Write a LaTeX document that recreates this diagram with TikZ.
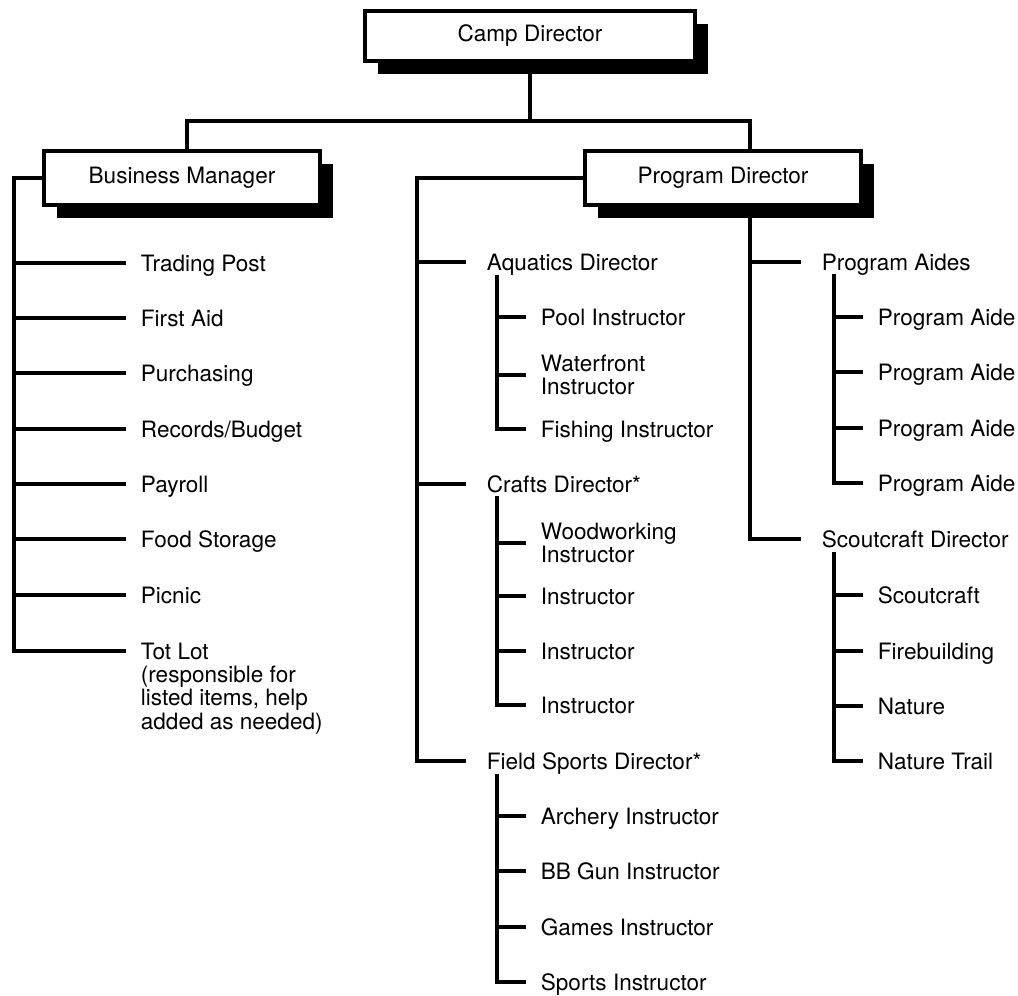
\documentclass[tikz,border=0pt]{standalone}
\usepackage{fontspec}
\setmainfont{TeX Gyre Heros}
\usetikzlibrary{shadows}
\begin{document}
\begin{tikzpicture}[x=0.75pt,y=-0.75pt,
  every node/.style={font=\fontsize{16.9pt}{17.5pt}\selectfont},
  conn/.style={line width=2.3pt},
  box/.style={draw, line width=2.8pt, fill=white, inner sep=0pt,
    drop shadow={shadow xshift=10pt,shadow yshift=-10pt,opacity=1,fill=black}},
  leaf/.style={inner xsep=11pt, inner ysep=1pt, anchor=west, text height=12.1pt, text depth=0pt},
  leafm/.style={inner xsep=11pt, inner ysep=1pt, anchor=west, align=left},
  dirn/.style={inner xsep=15.5pt, inner ysep=1pt, anchor=west, text height=12.1pt, text depth=0pt}]
\useasboundingbox (0,0) rectangle (1018,996);

% boxes
\node[box, minimum width=247.5pt, minimum height=37.5pt] (camp) at (530,36) {Camp Director};
\node[box, minimum width=207pt, minimum height=40.5pt] (bm) at (182,178) {Business Manager};
\node[box, minimum width=207pt, minimum height=40.5pt] (pd) at (723,178) {Program Director};

% junction coordinates
\coordinate (jl) at (187,121);
\coordinate (jr) at (750,121);
\coordinate (bmbot) at (14,651);
\coordinate (pdl) at (417,0);
\coordinate (pdr) at (750,0);
\coordinate (aqtop) at (497,275);
\coordinate (crtop) at (497,496);
\coordinate (fstop) at (497,774);
\coordinate (atop) at (834,274);
\coordinate (sctop) at (834,552);

% Business Manager items
\node[leaf] (tp) at (126,263) {Trading Post};
\node[leaf] (fa) at (126,318) {First Aid};
\node[leaf] (pu) at (126,373) {Purchasing};
\node[leaf] (rb) at (126,429) {Records/Budget};
\node[leaf] (pr) at (126,484) {Payroll};
\node[leaf] (fo) at (126,539) {Food Storage};
\node[leaf] (pc) at (126,595) {Picnic};
\node[leaf] (tot) at (126,651) {\begin{tabular}[t]{@{}l@{}}Tot Lot\\(responsible for\\listed items, help\\added as needed)\end{tabular}};

% Program Director left column
\node[dirn] (aq) at (466,262) {Aquatics Director};
\node[dirn] (cr) at (466,484) {Crafts Director*};
\node[dirn] (fsd) at (466,761) {Field Sports Director*};

\node[leaf] (pool) at (526,317) {Pool Instructor};
\node[leafm] (wf) at (526,375) {Waterfront\\Instructor};
\node[leaf] (fish) at (526,429) {Fishing Instructor};

\node[leafm] (wood) at (526,543) {Woodworking\\Instructor};
\node[leaf] (in1) at (526,596) {Instructor};
\node[leaf] (in2) at (526,651) {Instructor};
\node[leaf] (in3) at (526,705) {Instructor};

\node[leaf] (ar) at (526,816) {Archery Instructor};
\node[leaf] (bb) at (526,871) {BB Gun Instructor};
\node[leaf] (gm) at (526,927) {Games Instructor};
\node[leaf] (sp) at (526,982) {Sports Instructor};

% Program Director right column
\node[dirn] (pa) at (801,262) {Program Aides};
\node[dirn] (scd) at (801,539) {Scoutcraft Director};

\node[leaf] (a1) at (863,317) {Program Aide};
\node[leaf] (a2) at (863,372) {Program Aide};
\node[leaf] (a3) at (863,428) {Program Aide};
\node[leaf] (a4) at (863,483) {Program Aide};

\node[leaf] (sc) at (863,595) {Scoutcraft};
\node[leaf] (fb) at (863,651) {Firebuilding};
\node[leaf] (na) at (863,706) {Nature};
\node[leaf] (nt) at (863,761) {Nature Trail};

% top connectors
\draw[conn] (camp.south) -- (camp.south |- jl);
\draw[conn] (jl |- bm.north) -- (jl) -- (jr) -- (jr |- pd.north);

% Business Manager spine
\draw[conn] (bm.west) -| (bmbot) -- (tot.west);
\foreach \n in {tp,fa,pu,rb,pr,fo,pc}
  \draw[conn] (\n.west -| bmbot) -- (\n.west);

% Program Director left spine
\draw[conn] (pd.west) -| (pdl |- fsd.west) -- (fsd.west);
\foreach \n in {aq,cr}
  \draw[conn] (\n.west -| pdl) -- (\n.west);

\draw[conn] (aqtop) |- (fish.west);
\draw[conn] (pool.west -| aqtop) -- (pool.west);
\draw[conn] (wf.west -| aqtop) -- (wf.west);

\draw[conn] (crtop) |- (in3.west);
\draw[conn] (wood.west -| crtop) -- (wood.west);
\foreach \n in {in1,in2}
  \draw[conn] (\n.west -| crtop) -- (\n.west);

\draw[conn] (fstop) |- (sp.west);
\foreach \n in {ar,bb,gm}
  \draw[conn] (\n.west -| fstop) -- (\n.west);

% Program Director right spine
\draw[conn] (pd.south -| pdr) |- (scd.west);
\draw[conn] (pa.west -| pdr) -- (pa.west);

\draw[conn] (atop) |- (a4.west);
\foreach \n in {a1,a2,a3}
  \draw[conn] (\n.west -| atop) -- (\n.west);

\draw[conn] (sctop) |- (nt.west);
\foreach \n in {sc,fb,na}
  \draw[conn] (\n.west -| sctop) -- (\n.west);
\end{tikzpicture}
\end{document}
